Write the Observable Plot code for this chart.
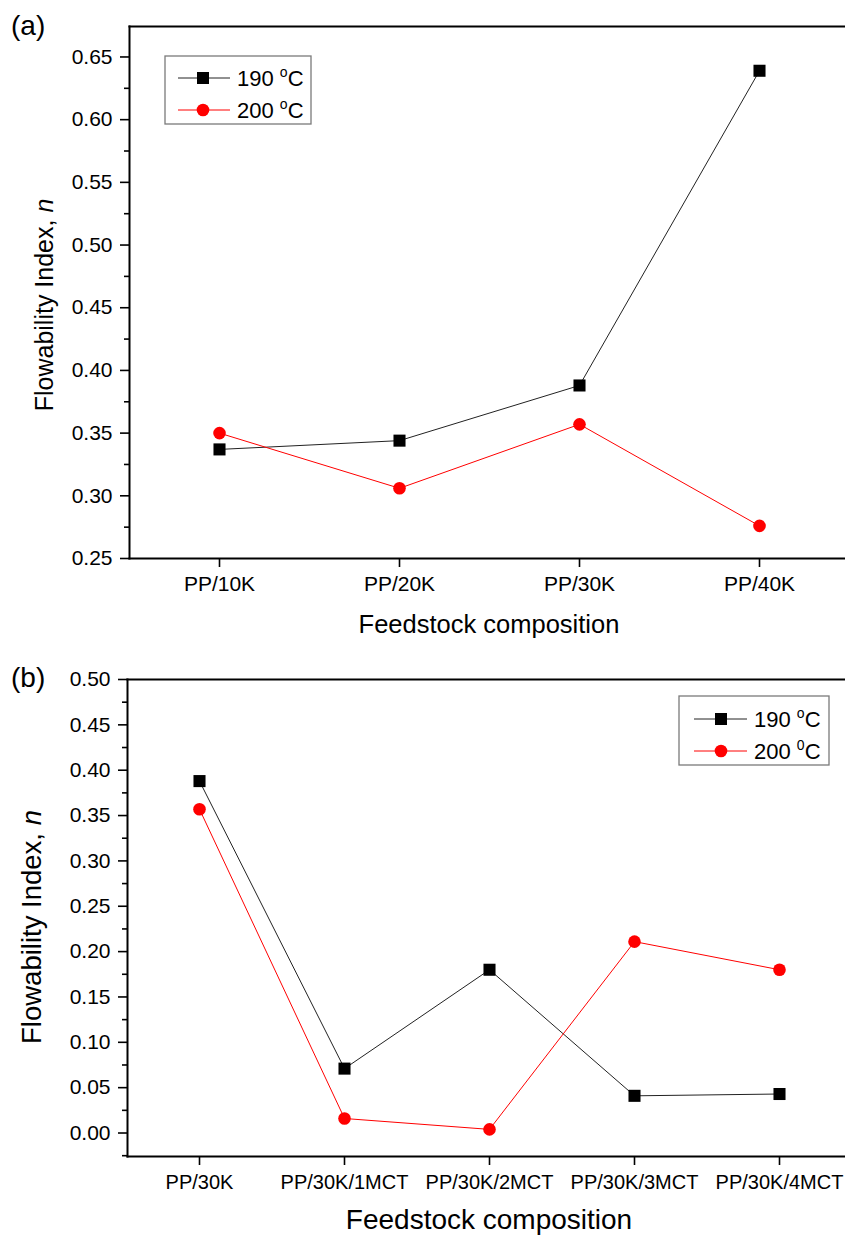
<!DOCTYPE html>
<html><head><meta charset="utf-8">
<script src="https://cdn.jsdelivr.net/npm/d3@7"></script>
<script src="https://cdn.jsdelivr.net/npm/@observablehq/plot@0.6"></script>
<style>
body{margin:0;background:#fff;}
#wrap{position:relative;width:845px;height:1236px;overflow:hidden;background:#fff;}
#wrap > svg{position:absolute;left:0;}
</style></head><body><div id="wrap"></div>
<script>
// ---- data ----
const catsA = ["PP/10K", "PP/20K", "PP/30K", "PP/40K"];
const a190 = [0.337, 0.344, 0.388, 0.639];
const a200 = [0.350, 0.306, 0.357, 0.276];

const catsB = ["PP/30K", "PP/30K/1MCT", "PP/30K/2MCT", "PP/30K/3MCT", "PP/30K/4MCT"];
const b190 = [0.388, 0.071, 0.180, 0.041, 0.043];
const b200 = [0.357, 0.016, 0.004, 0.211, 0.180];

const ticksA = [0.25, 0.30, 0.35, 0.40, 0.45, 0.50, 0.55, 0.60, 0.65];
const minorA = [0.275, 0.325, 0.375, 0.425, 0.475, 0.525, 0.575, 0.625];
const ticksB = [0.00, 0.05, 0.10, 0.15, 0.20, 0.25, 0.30, 0.35, 0.40, 0.45, 0.50];
const minorB = [-0.025, 0.025, 0.075, 0.125, 0.175, 0.225, 0.275, 0.325, 0.375, 0.425, 0.475];

const seriesNames = ["190", "200"];
const yTitle = "Flowability Index, ";
const xTitle = "Feedstock composition";

const FONT = '"Liberation Sans", Arial, Helvetica, sans-serif';
const wrap = document.getElementById("wrap");

function panel(o) {
  const d190 = o.cats.map((c, i) => ({cat: c, n: o.s190[i]}));
  const d200 = o.cats.map((c, i) => ({cat: c, n: o.s200[i]}));
  const svg = Plot.plot({
    width: 845, height: o.height,
    marginLeft: o.marginLeft, marginRight: 0, marginTop: o.marginTop, marginBottom: o.marginBottom,
    style: {fontFamily: FONT, fontSize: "21px", color: "#000", background: "#fff", overflow: "visible"},
    x: {type: "point", domain: o.cats, range: o.xRange, padding: 0.5, axis: null},
    y: {domain: o.yDomain, axis: null},
    marks: [
      Plot.axisY(o.majors, {anchor: "left", label: null, tickSize: 9, tickPadding: 8, tickFormat: d3.format(".2f"), fontSize: 21, strokeWidth: 1.6}),
      Plot.axisY(o.minors, {anchor: "left", label: null, tickSize: 5, tickFormat: () => "", strokeWidth: 1.6}),
      Plot.axisX(o.cats, {anchor: "bottom", label: null, tickSize: 9, tickPadding: 9, fontSize: o.xTickSize, strokeWidth: 1.6}),
      Plot.frame({anchor: "left", strokeWidth: 2}),
      Plot.frame({anchor: "bottom", strokeWidth: 2}),
      Plot.frame({anchor: "top", strokeWidth: 2}),
      Plot.line(d190, {x: "cat", y: "n", stroke: "#222", strokeWidth: 1}),
      Plot.dot(d190, {x: "cat", y: "n", symbol: "square", r: 6.8, fill: "#000"}),
      Plot.line(d200, {x: "cat", y: "n", stroke: "#ff0000", strokeWidth: 1}),
      Plot.dot(d200, {x: "cat", y: "n", symbol: "circle", r: 6.3, fill: "#ff0000"})
    ]
  });
  svg.style.top = o.top + "px";
  wrap.appendChild(svg);
  const s = d3.select(svg);
  // panel letter
  s.append("text").attr("x", 11).attr("y", o.letterY).attr("text-anchor", "start")
    .attr("font-family", FONT).attr("font-size", 28).attr("fill", "#000").text(o.letter);
  // y title
  const yt = s.append("text").attr("transform", `translate(${o.yTitleX},${o.yTitleY}) rotate(-90)`)
    .attr("text-anchor", "middle").attr("font-family", FONT).attr("font-size", o.titleSize).attr("fill", "#000");
  yt.append("tspan").text(yTitle);
  yt.append("tspan").attr("font-style", "italic").text("n");
  // x title
  s.append("text").attr("x", o.xTitleX).attr("y", o.xTitleY).attr("text-anchor", "middle")
    .attr("font-family", FONT).attr("font-size", o.xTitleSize).attr("fill", "#000").text(xTitle);
  // legend
  const L = o.legend;
  const g = s.append("g").attr("font-family", FONT).attr("font-size", 22).attr("fill", "#000").attr("text-anchor", "start");
  g.append("rect").attr("x", L.x).attr("y", L.y).attr("width", L.w).attr("height", L.h)
    .attr("fill", "#fff").attr("stroke", "#7a7a7a").attr("stroke-width", 1.3);
  const rows = [
    {name: seriesNames[0], sup: "o", color: "#222", fill: "#000", shape: "square", y: L.y + L.r1},
    {name: seriesNames[1], sup: L.sup2, color: "#ff0000", fill: "#ff0000", shape: "circle", y: L.y + L.r2}
  ];
  for (const r of rows) {
    g.append("line").attr("x1", L.lx1).attr("x2", L.lx2).attr("y1", r.y).attr("y2", r.y).attr("stroke", r.color).attr("stroke-width", 1);
    if (r.shape === "square") g.append("rect").attr("x", L.mx - 6).attr("y", r.y - 6).attr("width", 12).attr("height", 12).attr("fill", r.fill);
    else g.append("circle").attr("cx", L.mx).attr("cy", r.y).attr("r", 6.3).attr("fill", r.fill);
    const t = g.append("text").attr("x", L.tx).attr("y", r.y + 8).attr("text-anchor", "start");
    t.append("tspan").text(r.name + " ");
    t.append("tspan").attr("font-size", 14).attr("dy", -9).text(r.sup);
    t.append("tspan").attr("dy", 9).text("C");
  }
}

panel({
  cats: catsA, s190: a190, s200: a200, majors: ticksA, minors: minorA,
  yDomain: [0.25, 0.6743], xRange: [129, 849], xTickSize: 21,
  height: 640, top: 0, marginLeft: 129, marginTop: 26, marginBottom: 82,
  letter: "(a)", letterY: 35,
  yTitleX: 53, yTitleY: 305, titleSize: 25,
  xTitleX: 489, xTitleY: 633, xTitleSize: 25.5,
  legend: {x: 165, y: 56, w: 146, h: 68, r1: 22, r2: 54, lx1: 178, lx2: 230, mx: 203, tx: 237, sup2: "o"}
});

panel({
  cats: catsB, s190: b190, s200: b200, majors: ticksB, minors: minorB,
  yDomain: [-0.0259, 0.5], xRange: [126.6, 852], xTickSize: 20,
  height: 596, top: 640, marginLeft: 127, marginTop: 39, marginBottom: 80,
  letter: "(b)", letterY: 47,
  yTitleX: 41, yTitleY: 287, titleSize: 27.5,
  xTitleX: 489, xTitleY: 589, xTitleSize: 28,
  legend: {x: 679, y: 56, w: 150, h: 69, r1: 23, r2: 55, lx1: 694, lx2: 747, mx: 721, tx: 754, sup2: "0"}
});
</script>
</body></html>
